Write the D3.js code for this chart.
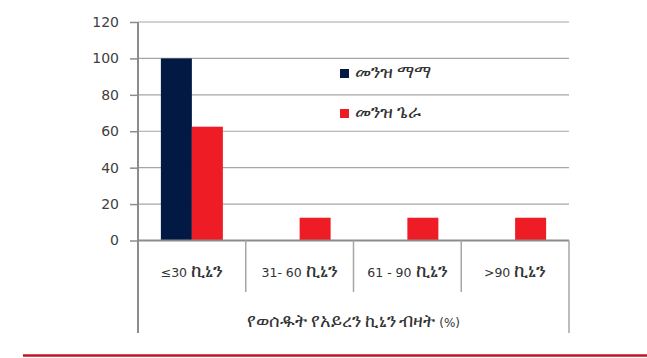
<!DOCTYPE html>
<html>
<head>
<meta charset="utf-8">
<script src="https://cdn.jsdelivr.net/npm/d3@7/dist/d3.min.js"></script>
<style>
  html, body { margin: 0; padding: 0; background: #fff; }
  svg { display: block; font-family: "DejaVu Sans", "Noto Sans", sans-serif; }
</style>
</head>
<body>
<svg id="chart" width="647" height="358"></svg>
<script>
// Iron pills taken, share of respondents (%) by district
const categories = ["≤30 ኪኒን", "31- 60 ኪኒን", "61 - 90 ኪኒን", ">90 ኪኒን"];
const seriesNames = ["መንዝ ማማ", "መንዝ ጌራ"];
const mamaValues = [100, 0, 0, 0];
const geraValues = [62.5, 12.5, 12.5, 12.5];
const yTicks = [0, 20, 40, 60, 80, 100, 120];
const groupTitle = "የወሰዱት የአይረን ኪኒን ብዛት  (%)";
const colors = ["#021a43", "#ee1c25"];

const seriesValues = [mamaValues, geraValues];

const svg = d3.select("#chart");
const plotLeft = 138, plotRight = 569, plotTop = 22, plotBottom = 240.5;

// Ethiopic runs are set a little larger so they sit level with the Latin digits
const ethiopic = /([\u1200-\u139F\u2D80-\u2DDF]+)/;
function mixedText(sel, str, size, scale) {
  str.split(ethiopic).filter(s => s.length).forEach(part => {
    sel.append("tspan")
      .attr("font-size", ethiopic.test(part) ? size * scale : size)
      .text(part);
  });
}

const x = d3.scaleBand().domain(categories).range([plotLeft, plotRight]).padding(0);
const xSub = d3.scaleBand().domain(seriesNames)
  .range([0, x.bandwidth()]).paddingInner(0).paddingOuter(0.738);
const y = d3.scaleLinear().domain([0, 120]).range([plotBottom, plotTop]);

// horizontal gridlines
svg.append("g").selectAll("line").data(yTicks).join("line")
  .attr("x1", plotLeft).attr("x2", plotRight)
  .attr("y1", d => y(d)).attr("y2", d => y(d))
  .attr("stroke", "#a6a6a6").attr("stroke-width", 1.2);

// bars
const rows = categories.map((c, i) => seriesNames.map((s, j) => ({ cat: c, series: s, value: seriesValues[j][i], k: j })));
svg.append("g").selectAll("g").data(rows).join("g")
  .attr("transform", d => `translate(${x(d[0].cat)},0)`)
  .selectAll("rect").data(d => d.filter(v => v.value > 0)).join("rect")
  .attr("x", d => xSub(d.series))
  .attr("width", xSub.bandwidth())
  .attr("y", d => y(d.value))
  .attr("height", d => y(0) - y(d.value))
  .attr("fill", d => colors[d.k]);

// y axis
const yAxis = svg.append("g").attr("transform", `translate(${plotLeft},0)`)
  .call(d3.axisLeft(y).tickValues(yTicks).tickSize(8).tickPadding(11).tickSizeOuter(0));
yAxis.select(".domain").remove();
yAxis.selectAll(".tick line").attr("stroke", "#8c8c8c").attr("stroke-width", 1.5);
yAxis.selectAll(".tick text").attr("font-size", 14).attr("fill", "#404040")
  .attr("font-family", "DejaVu Sans, sans-serif");
svg.append("line").attr("x1", plotLeft).attr("x2", plotLeft).attr("y1", plotTop).attr("y2", 333)
  .attr("stroke", "#8c8c8c").attr("stroke-width", 2);

// category axis baseline and separators
svg.append("line").attr("x1", plotLeft).attr("x2", plotRight).attr("y1", y(0)).attr("y2", y(0))
  .attr("stroke", "#8c8c8c").attr("stroke-width", 2);
svg.append("g").selectAll("line").data(categories.slice(1)).join("line")
  .attr("x1", d => x(d)).attr("x2", d => x(d))
  .attr("y1", y(0)).attr("y2", 292)
  .attr("stroke", "#a6a6a6").attr("stroke-width", 1.5);
svg.append("line").attr("x1", plotRight).attr("x2", plotRight).attr("y1", y(0)).attr("y2", 333)
  .attr("stroke", "#a6a6a6").attr("stroke-width", 1.5);

// category labels
svg.append("g").selectAll("text").data(categories).join("text")
  .attr("x", d => x(d) + x.bandwidth() / 2)
  .attr("y", 277)
  .attr("text-anchor", "middle")
  .attr("fill", "#333")
  .each(function(d) { mixedText(d3.select(this), d, 12.5, 1.5); });

// group title under the categories
mixedText(svg.append("text").attr("x", (plotLeft + plotRight) / 2).attr("y", 327)
  .attr("text-anchor", "middle").attr("fill", "#333"), groupTitle, 12, 1.5);

// legend
const legend = svg.append("g").selectAll("g").data(seriesNames).join("g")
  .attr("transform", (d, i) => `translate(340,${69 + i * 40})`);
legend.append("rect").attr("width", 9).attr("height", 9).attr("fill", (d, i) => colors[i]);
legend.append("text").attr("x", 15).attr("y", 9).attr("fill", "#333")
  .each(function(d) { mixedText(d3.select(this), d, 12, 1.5); });

// bottom rule
svg.append("line").attr("x1", 23).attr("x2", 647).attr("y1", 355.5).attr("y2", 355.5)
  .attr("stroke", "#be1622").attr("stroke-width", 2.5);
</script>
</body>
</html>
